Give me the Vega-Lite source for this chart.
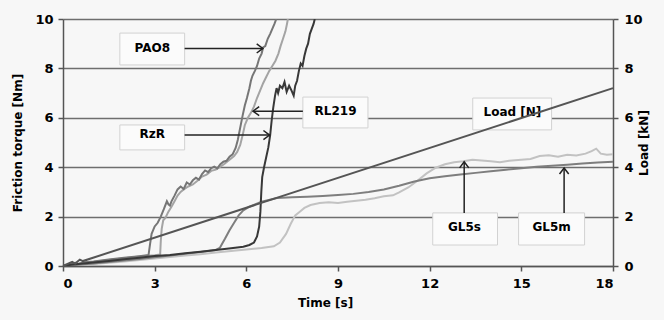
{
  "$schema": "https://vega.github.io/schema/vega-lite/v6.json",
  "width": 550,
  "height": 247,
  "autosize": {"type": "none"},
  "padding": {"left": 63, "top": 19, "right": 51, "bottom": 54},
  "background": "#f7f7f7",
  "config": {
    "view": {"stroke": null},
    "font": "DejaVu Sans",
    "axis": {
      "labelFont": "DejaVu Sans", "labelFontWeight": "bold", "labelFontSize": 13, "labelColor": "#000",
      "titleFont": "DejaVu Sans", "titleFontWeight": "bold", "titleFontSize": 12, "titleColor": "#000",
      "domainColor": "#555", "domainWidth": 1.5, "tickColor": "#555", "tickWidth": 1.5, "tickSize": 5,
      "gridColor": "#6e6e6e", "gridWidth": 1.5
    }
  },
  "datasets": {
    "torque": [
      {"s":"GL5s","t":0,"v":0},{"s":"GL5s","t":0.5,"v":0.03},{"s":"GL5s","t":1,"v":0.08},{"s":"GL5s","t":1.5,"v":0.13},{"s":"GL5s","t":2,"v":0.18},{"s":"GL5s","t":2.5,"v":0.24},{"s":"GL5s","t":3,"v":0.3},{"s":"GL5s","t":3.5,"v":0.36},{"s":"GL5s","t":4,"v":0.42},{"s":"GL5s","t":4.5,"v":0.48},{"s":"GL5s","t":5,"v":0.55},{"s":"GL5s","t":5.5,"v":0.61},{"s":"GL5s","t":6,"v":0.67},{"s":"GL5s","t":6.5,"v":0.73},{"s":"GL5s","t":6.9,"v":0.8},{"s":"GL5s","t":7.1,"v":0.95},{"s":"GL5s","t":7.3,"v":1.3},{"s":"GL5s","t":7.45,"v":1.7},{"s":"GL5s","t":7.6,"v":2.05},{"s":"GL5s","t":7.75,"v":2.2},{"s":"GL5s","t":7.9,"v":2.35},{"s":"GL5s","t":8.1,"v":2.47},{"s":"GL5s","t":8.4,"v":2.55},{"s":"GL5s","t":8.7,"v":2.58},{"s":"GL5s","t":9.0,"v":2.55},{"s":"GL5s","t":9.3,"v":2.6},{"s":"GL5s","t":9.6,"v":2.64},{"s":"GL5s","t":9.9,"v":2.68},{"s":"GL5s","t":10.2,"v":2.74},{"s":"GL5s","t":10.5,"v":2.82},{"s":"GL5s","t":10.8,"v":2.86},{"s":"GL5s","t":11.0,"v":2.98},{"s":"GL5s","t":11.3,"v":3.18},{"s":"GL5s","t":11.6,"v":3.45},{"s":"GL5s","t":11.9,"v":3.75},{"s":"GL5s","t":12.2,"v":3.98},{"s":"GL5s","t":12.5,"v":4.12},{"s":"GL5s","t":12.8,"v":4.2},{"s":"GL5s","t":13.1,"v":4.24},{"s":"GL5s","t":13.4,"v":4.3},{"s":"GL5s","t":13.7,"v":4.27},{"s":"GL5s","t":14.0,"v":4.24},{"s":"GL5s","t":14.3,"v":4.2},{"s":"GL5s","t":14.6,"v":4.26},{"s":"GL5s","t":15.0,"v":4.3},{"s":"GL5s","t":15.3,"v":4.33},{"s":"GL5s","t":15.6,"v":4.45},{"s":"GL5s","t":15.9,"v":4.48},{"s":"GL5s","t":16.2,"v":4.42},{"s":"GL5s","t":16.5,"v":4.5},{"s":"GL5s","t":16.8,"v":4.47},{"s":"GL5s","t":17.1,"v":4.55},{"s":"GL5s","t":17.3,"v":4.65},{"s":"GL5s","t":17.45,"v":4.75},{"s":"GL5s","t":17.6,"v":4.55},{"s":"GL5s","t":17.8,"v":4.5},{"s":"GL5s","t":18,"v":4.52},

      {"s":"GL5m","t":0,"v":0},{"s":"GL5m","t":0.5,"v":0.05},{"s":"GL5m","t":1,"v":0.1},{"s":"GL5m","t":1.5,"v":0.16},{"s":"GL5m","t":2,"v":0.22},{"s":"GL5m","t":2.5,"v":0.28},{"s":"GL5m","t":3,"v":0.35},{"s":"GL5m","t":3.5,"v":0.42},{"s":"GL5m","t":4,"v":0.5},{"s":"GL5m","t":4.5,"v":0.57},{"s":"GL5m","t":5,"v":0.65},{"s":"GL5m","t":5.13,"v":0.73},{"s":"GL5m","t":5.3,"v":1.1},{"s":"GL5m","t":5.45,"v":1.45},{"s":"GL5m","t":5.6,"v":1.75},{"s":"GL5m","t":5.75,"v":2.05},{"s":"GL5m","t":5.9,"v":2.25},{"s":"GL5m","t":6.1,"v":2.4},{"s":"GL5m","t":6.5,"v":2.6},{"s":"GL5m","t":7,"v":2.75},{"s":"GL5m","t":7.5,"v":2.78},{"s":"GL5m","t":8,"v":2.8},{"s":"GL5m","t":8.5,"v":2.83},{"s":"GL5m","t":9,"v":2.87},{"s":"GL5m","t":9.5,"v":2.92},{"s":"GL5m","t":10,"v":3.0},{"s":"GL5m","t":10.5,"v":3.1},{"s":"GL5m","t":11,"v":3.25},{"s":"GL5m","t":11.5,"v":3.42},{"s":"GL5m","t":12,"v":3.55},{"s":"GL5m","t":12.5,"v":3.63},{"s":"GL5m","t":13,"v":3.7},{"s":"GL5m","t":13.5,"v":3.77},{"s":"GL5m","t":14,"v":3.84},{"s":"GL5m","t":14.5,"v":3.9},{"s":"GL5m","t":15,"v":3.96},{"s":"GL5m","t":15.5,"v":4.02},{"s":"GL5m","t":16,"v":4.06},{"s":"GL5m","t":16.5,"v":4.1},{"s":"GL5m","t":17,"v":4.15},{"s":"GL5m","t":17.5,"v":4.19},{"s":"GL5m","t":18,"v":4.22},

      {"s":"RL219","t":0,"v":0},{"s":"RL219","t":0.3,"v":0.05},{"s":"RL219","t":0.6,"v":0.1},{"s":"RL219","t":1,"v":0.16},{"s":"RL219","t":1.5,"v":0.24},{"s":"RL219","t":2,"v":0.31},{"s":"RL219","t":2.5,"v":0.38},{"s":"RL219","t":3.0,"v":0.44},{"s":"RL219","t":3.18,"v":0.47},{"s":"RL219","t":3.2,"v":1.0},{"s":"RL219","t":3.23,"v":1.5},{"s":"RL219","t":3.28,"v":1.85},{"s":"RL219","t":3.35,"v":1.95},{"s":"RL219","t":3.45,"v":2.2},{"s":"RL219","t":3.55,"v":2.4},{"s":"RL219","t":3.65,"v":2.62},{"s":"RL219","t":3.75,"v":2.85},{"s":"RL219","t":3.85,"v":3.0},{"s":"RL219","t":3.95,"v":3.1},{"s":"RL219","t":4.1,"v":3.22},{"s":"RL219","t":4.25,"v":3.3},{"s":"RL219","t":4.4,"v":3.45},{"s":"RL219","t":4.55,"v":3.62},{"s":"RL219","t":4.7,"v":3.7},{"s":"RL219","t":4.85,"v":3.85},{"s":"RL219","t":5.0,"v":3.9},{"s":"RL219","t":5.15,"v":4.02},{"s":"RL219","t":5.3,"v":4.15},{"s":"RL219","t":5.45,"v":4.3},{"s":"RL219","t":5.6,"v":4.45},{"s":"RL219","t":5.7,"v":4.62},{"s":"RL219","t":5.8,"v":4.9},{"s":"RL219","t":5.88,"v":5.3},{"s":"RL219","t":5.95,"v":5.7},{"s":"RL219","t":6.05,"v":6.0},{"s":"RL219","t":6.15,"v":6.2},{"s":"RL219","t":6.25,"v":6.45},{"s":"RL219","t":6.35,"v":6.8},{"s":"RL219","t":6.45,"v":7.1},{"s":"RL219","t":6.55,"v":7.4},{"s":"RL219","t":6.65,"v":7.65},{"s":"RL219","t":6.75,"v":7.9},{"s":"RL219","t":6.85,"v":8.1},{"s":"RL219","t":6.95,"v":8.3},{"s":"RL219","t":7.05,"v":8.6},{"s":"RL219","t":7.12,"v":8.9},{"s":"RL219","t":7.2,"v":9.2},{"s":"RL219","t":7.28,"v":9.5},{"s":"RL219","t":7.33,"v":9.8},{"s":"RL219","t":7.36,"v":10},

      {"s":"PAO8","t":0,"v":0},{"s":"PAO8","t":0.2,"v":0.06},{"s":"PAO8","t":0.4,"v":0.13},{"s":"PAO8","t":0.5,"v":0.08},{"s":"PAO8","t":0.7,"v":0.15},{"s":"PAO8","t":1.0,"v":0.18},{"s":"PAO8","t":1.5,"v":0.26},{"s":"PAO8","t":2.0,"v":0.33},{"s":"PAO8","t":2.5,"v":0.4},{"s":"PAO8","t":2.8,"v":0.45},{"s":"PAO8","t":2.85,"v":0.9},{"s":"PAO8","t":2.9,"v":1.3},{"s":"PAO8","t":3.0,"v":1.6},{"s":"PAO8","t":3.1,"v":1.75},{"s":"PAO8","t":3.2,"v":2.0},{"s":"PAO8","t":3.3,"v":2.3},{"s":"PAO8","t":3.4,"v":2.62},{"s":"PAO8","t":3.45,"v":2.5},{"s":"PAO8","t":3.5,"v":2.45},{"s":"PAO8","t":3.55,"v":2.62},{"s":"PAO8","t":3.65,"v":2.85},{"s":"PAO8","t":3.75,"v":3.1},{"s":"PAO8","t":3.85,"v":3.22},{"s":"PAO8","t":3.95,"v":3.12},{"s":"PAO8","t":4.05,"v":3.38},{"s":"PAO8","t":4.15,"v":3.3},{"s":"PAO8","t":4.25,"v":3.47},{"s":"PAO8","t":4.35,"v":3.57},{"s":"PAO8","t":4.45,"v":3.5},{"s":"PAO8","t":4.55,"v":3.72},{"s":"PAO8","t":4.65,"v":3.87},{"s":"PAO8","t":4.75,"v":3.8},{"s":"PAO8","t":4.85,"v":3.96},{"s":"PAO8","t":4.95,"v":4.02},{"s":"PAO8","t":5.05,"v":3.95},{"s":"PAO8","t":5.15,"v":4.12},{"s":"PAO8","t":5.25,"v":4.22},{"s":"PAO8","t":5.35,"v":4.26},{"s":"PAO8","t":5.45,"v":4.42},{"s":"PAO8","t":5.55,"v":4.52},{"s":"PAO8","t":5.65,"v":4.78},{"s":"PAO8","t":5.72,"v":5.1},{"s":"PAO8","t":5.8,"v":5.6},{"s":"PAO8","t":5.88,"v":6.1},{"s":"PAO8","t":5.95,"v":6.5},{"s":"PAO8","t":6.02,"v":6.8},{"s":"PAO8","t":6.1,"v":7.2},{"s":"PAO8","t":6.15,"v":7.5},{"s":"PAO8","t":6.2,"v":7.7},{"s":"PAO8","t":6.28,"v":7.9},{"s":"PAO8","t":6.35,"v":8.1},{"s":"PAO8","t":6.42,"v":8.4},{"s":"PAO8","t":6.5,"v":8.6},{"s":"PAO8","t":6.55,"v":8.85},{"s":"PAO8","t":6.62,"v":8.9},{"s":"PAO8","t":6.7,"v":9.2},{"s":"PAO8","t":6.78,"v":9.4},{"s":"PAO8","t":6.85,"v":9.6},{"s":"PAO8","t":6.92,"v":9.8},{"s":"PAO8","t":6.98,"v":10},

      {"s":"RzR","t":0,"v":0},{"s":"RzR","t":0.2,"v":0.04},{"s":"RzR","t":0.5,"v":0.08},{"s":"RzR","t":1,"v":0.14},{"s":"RzR","t":1.5,"v":0.2},{"s":"RzR","t":2,"v":0.27},{"s":"RzR","t":2.5,"v":0.33},{"s":"RzR","t":3,"v":0.4},{"s":"RzR","t":3.5,"v":0.45},{"s":"RzR","t":4,"v":0.52},{"s":"RzR","t":4.5,"v":0.58},{"s":"RzR","t":5,"v":0.65},{"s":"RzR","t":5.5,"v":0.72},{"s":"RzR","t":5.9,"v":0.78},{"s":"RzR","t":6.1,"v":0.85},{"s":"RzR","t":6.25,"v":0.95},{"s":"RzR","t":6.35,"v":1.2},{"s":"RzR","t":6.42,"v":1.6},{"s":"RzR","t":6.46,"v":2.2},{"s":"RzR","t":6.49,"v":3.0},{"s":"RzR","t":6.52,"v":3.6},{"s":"RzR","t":6.58,"v":4.0},{"s":"RzR","t":6.65,"v":4.4},{"s":"RzR","t":6.72,"v":4.8},{"s":"RzR","t":6.78,"v":5.3},{"s":"RzR","t":6.83,"v":5.9},{"s":"RzR","t":6.88,"v":6.4},{"s":"RzR","t":6.94,"v":6.9},{"s":"RzR","t":6.99,"v":7.2},{"s":"RzR","t":7.04,"v":7.0},{"s":"RzR","t":7.1,"v":7.3},{"s":"RzR","t":7.18,"v":7.2},{"s":"RzR","t":7.25,"v":7.45},{"s":"RzR","t":7.32,"v":7.05},{"s":"RzR","t":7.4,"v":7.3},{"s":"RzR","t":7.48,"v":7.1},{"s":"RzR","t":7.55,"v":6.9},{"s":"RzR","t":7.6,"v":7.3},{"s":"RzR","t":7.66,"v":7.5},{"s":"RzR","t":7.72,"v":7.9},{"s":"RzR","t":7.78,"v":8.2},{"s":"RzR","t":7.84,"v":8.1},{"s":"RzR","t":7.9,"v":8.5},{"s":"RzR","t":7.96,"v":8.8},{"s":"RzR","t":8.02,"v":9.0},{"s":"RzR","t":8.08,"v":9.4},{"s":"RzR","t":8.14,"v":9.6},{"s":"RzR","t":8.2,"v":9.8},{"s":"RzR","t":8.24,"v":10}
    ],
    "load": [
      {"t":0,"kn":0},{"t":0.3,"kn":0.17},{"t":0.4,"kn":0.1},{"t":0.55,"kn":0.26},{"t":0.65,"kn":0.2},{"t":18,"kn":7.2}
    ],
    "notes": [
      {"label":"PAO8","tx":2.92,"ty":8.82,"bx1":1.86,"bx2":3.98,"by1":8.14,"by2":9.43},
      {"label":"RzR","tx":2.92,"ty":5.34,"bx1":1.86,"bx2":3.98,"by1":4.7,"by2":5.71},
      {"label":"RL219","tx":8.92,"ty":6.29,"bx1":7.85,"bx2":9.98,"by1":5.59,"by2":6.84},
      {"label":"Load [N]","tx":14.71,"ty":6.23,"bx1":13.41,"bx2":15.99,"by1":5.51,"by2":6.8},
      {"label":"GL5s","tx":13.14,"ty":1.56,"bx1":12.1,"bx2":14.22,"by1":0.85,"by2":2.15},
      {"label":"GL5m","tx":15.99,"ty":1.58,"bx1":14.91,"bx2":17.07,"by1":0.85,"by2":2.15}
    ],
    "arrows": [
      {"label":"PAO8","ax1":3.98,"ay1":8.81,"ax2":6.54,"ay2":8.81,"dir":"right"},
      {"label":"RzR","ax1":3.98,"ay1":5.3,"ax2":6.76,"ay2":5.3,"dir":"right"},
      {"label":"RL219","ax1":7.85,"ay1":6.27,"ax2":6.22,"ay2":6.27,"dir":"left"},
      {"label":"GL5s","ax1":13.13,"ay1":2.15,"ax2":13.13,"ay2":4.22,"dir":"up"},
      {"label":"GL5m","ax1":16.4,"ay1":2.15,"ax2":16.4,"ay2":3.97,"dir":"up"}
    ]
  },
  "layer": [
    {
      "layer": [
        {
          "data": {"name": "torque"},
          "mark": {"type": "line", "strokeWidth": 2, "clip": true},
          "encoding": {
            "x": {"field": "t", "type": "quantitative", "title": "Time [s]",
                  "scale": {"domain": [0, 18], "nice": false},
                  "axis": {"values": [0,3,6,9,12,15,18], "grid": false, "labelPadding": 6, "titlePadding": 7, "titleX": 262}},
            "y": {"field": "v", "type": "quantitative", "title": "Friction torque [Nm]",
                  "scale": {"domain": [0, 10], "nice": false},
                  "axis": {"values": [0,2,4,6,8,10], "grid": true, "labelPadding": 5, "titlePadding": 10}},
            "color": {"field": "s", "type": "nominal",
                      "scale": {"domain": ["GL5s","GL5m","RL219","PAO8","RzR"], "range": ["#c2c2c2","#7e7e7e","#a4a4a4","#767676","#383838"]},
                      "legend": null}
          }
        },
        {
          "data": {"name": "notes"},
          "mark": {"type": "rect", "fill": "#fbfbfb", "stroke": "#d2d2d2", "strokeWidth": 1},
          "encoding": {
            "x": {"field": "bx1", "type": "quantitative", "title": "Time [s]"},
            "x2": {"field": "bx2"},
            "y": {"field": "by1", "type": "quantitative", "title": "Friction torque [Nm]"},
            "y2": {"field": "by2"}
          }
        },
        {
          "data": {"name": "notes"},
          "mark": {"type": "text", "font": "DejaVu Sans", "fontWeight": "bold", "fontSize": 12, "color": "#000", "align": "center", "baseline": "middle"},
          "encoding": {
            "x": {"field": "tx", "type": "quantitative", "title": "Time [s]"},
            "y": {"field": "ty", "type": "quantitative", "title": "Friction torque [Nm]"},
            "text": {"field": "label"}
          }
        },
        {
          "data": {"name": "arrows"},
          "mark": {"type": "rule", "color": "#222", "strokeWidth": 1.5},
          "encoding": {
            "x": {"field": "ax1", "type": "quantitative", "title": "Time [s]"},
            "x2": {"field": "ax2"},
            "y": {"field": "ay1", "type": "quantitative", "title": "Friction torque [Nm]"},
            "y2": {"field": "ay2"}
          }
        },
        {
          "data": {"name": "arrows"},
          "mark": {"type": "point", "filled": false, "stroke": "#222", "strokeWidth": 1.5, "opacity": 1, "size": 150},
          "encoding": {
            "x": {"field": "ax2", "type": "quantitative", "title": "Time [s]"},
            "y": {"field": "ay2", "type": "quantitative", "title": "Friction torque [Nm]"},
            "shape": {"field": "dir", "type": "nominal",
                      "scale": {"domain": ["right","left","up"], "range": ["M-1,-0.75L0,0L-1,0.75", "M1,-0.75L0,0L1,0.75", "M-0.75,1L0,0L0.75,1"]},
                      "legend": null}
          }
        }
      ]
    },
    {
      "data": {"name": "load"},
      "mark": {"type": "line", "strokeWidth": 2, "color": "#555"},
      "encoding": {
        "x": {"field": "t", "type": "quantitative", "title": "Time [s]"},
        "y": {"field": "kn", "type": "quantitative", "title": "Load  [kN]",
              "scale": {"domain": [0, 10], "nice": false},
              "axis": {"orient": "right", "values": [0,2,4,6,8,10], "grid": false, "labelPadding": 6, "titlePadding": 8, "titleAngle": 270}}
      }
    }
  ],
  "resolve": {"scale": {"y": "independent"}}
}
